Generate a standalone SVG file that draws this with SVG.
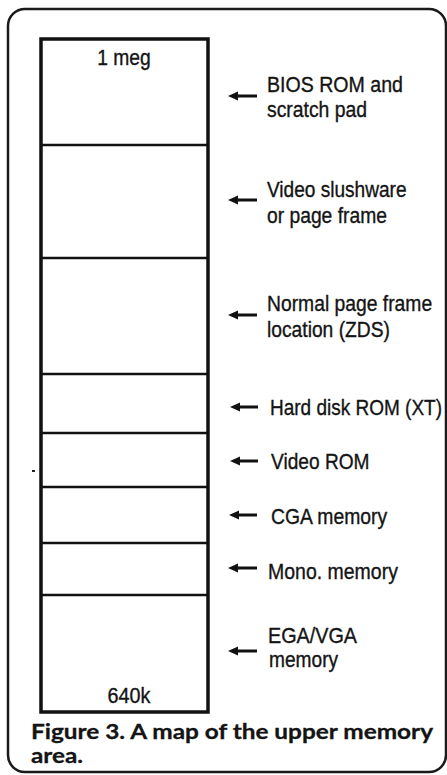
<svg xmlns="http://www.w3.org/2000/svg" width="447" height="775" viewBox="0 0 447 775">
<style>
.frame{fill:none;stroke:#1a1a1a;stroke-width:2.5}
.box{fill:#fff;stroke:#111;stroke-width:3.5}
.div{stroke:#111;stroke-width:2.6}
.lbl{font-family:"Liberation Sans",Arial,sans-serif;font-size:22px;fill:#141414;stroke:#141414;stroke-width:0.35}
.cap{font-family:Lato,"Open Sans",sans-serif;font-weight:bold;font-size:21px;fill:#141414;stroke:#141414;stroke-width:0.3}
.arr{stroke:#111;stroke-width:3;fill:none}
</style>
<defs>
<marker id="ah" markerUnits="userSpaceOnUse" markerWidth="12" markerHeight="12" viewBox="0 -6 12 12" refX="8" refY="0" orient="auto">
<path d="M0,0 L10,-4.5 L10,4.5 Z" fill="#111"/>
</marker>
</defs>
<rect class="frame" x="8" y="9" width="438" height="763" rx="17"/>
<rect x="32" y="470" width="3" height="2" fill="#222"/>
<g id="memory-map">
<rect class="box" x="41" y="39" width="167" height="673"/>
<text class="lbl" transform="translate(124,65) scale(0.875,1)" text-anchor="middle">1 meg</text>
<text class="lbl" transform="translate(129,703) scale(0.9,1)" text-anchor="middle">640k</text>
</g>
<g id="bios">
<line class="div" x1="41" y1="145" x2="208" y2="145"/>
<text class="lbl" transform="translate(267,92) scale(0.89,1)">BIOS ROM and</text>
<text class="lbl" transform="translate(267,117) scale(0.88,1)">scratch pad</text>
</g>
<g id="video-slushware">
<line class="div" x1="41" y1="258" x2="208" y2="258"/>
<text class="lbl" transform="translate(267,197) scale(0.867,1)">Video slushware</text>
<text class="lbl" transform="translate(267,223) scale(0.876,1)">or page frame</text>
</g>
<g id="normal-page-frame">
<line class="div" x1="41" y1="374" x2="208" y2="374"/>
<text class="lbl" transform="translate(267,311) scale(0.877,1)">Normal page frame</text>
<text class="lbl" transform="translate(267,337) scale(0.875,1)">location (ZDS)</text>
</g>
<g id="hard-disk-rom">
<line class="div" x1="41" y1="433" x2="208" y2="433"/>
<text class="lbl" transform="translate(270,415) scale(0.864,1)">Hard disk ROM (XT)</text>
</g>
<g id="video-rom">
<line class="div" x1="41" y1="487" x2="208" y2="487"/>
<text class="lbl" transform="translate(271,469) scale(0.87,1)">Video ROM</text>
</g>
<g id="cga-memory">
<line class="div" x1="41" y1="543" x2="208" y2="543"/>
<text class="lbl" transform="translate(271,524) scale(0.88,1)">CGA memory</text>
</g>
<g id="mono-memory">
<line class="div" x1="41" y1="595" x2="208" y2="595"/>
<text class="lbl" transform="translate(268,579) scale(0.886,1)">Mono. memory</text>
</g>
<g id="ega-vga-memory">
<text class="lbl" transform="translate(268,643) scale(0.9,1)">EGA/VGA</text>
<text class="lbl" transform="translate(269,667) scale(0.87,1)">memory</text>
</g>
<g id="connectors">
<line class="arr" x1="236" y1="96" x2="257" y2="96" marker-start="url(#ah)"/>
<line class="arr" x1="236" y1="200" x2="257" y2="200" marker-start="url(#ah)"/>
<line class="arr" x1="236" y1="315" x2="257" y2="315" marker-start="url(#ah)"/>
<line class="arr" x1="238" y1="407" x2="258" y2="407" marker-start="url(#ah)"/>
<line class="arr" x1="238" y1="461" x2="258" y2="461" marker-start="url(#ah)"/>
<line class="arr" x1="237" y1="515" x2="257" y2="515" marker-start="url(#ah)"/>
<line class="arr" x1="236" y1="568" x2="257" y2="568" marker-start="url(#ah)"/>
<line class="arr" x1="236" y1="651" x2="257" y2="651" marker-start="url(#ah)"/>
</g>
<g id="caption">
<text class="cap" x="31" y="739" textLength="402" lengthAdjust="spacingAndGlyphs">Figure 3. A map of the upper memory</text>
<text class="cap" x="31" y="763" textLength="52" lengthAdjust="spacingAndGlyphs">area.</text>
</g>
</svg>
